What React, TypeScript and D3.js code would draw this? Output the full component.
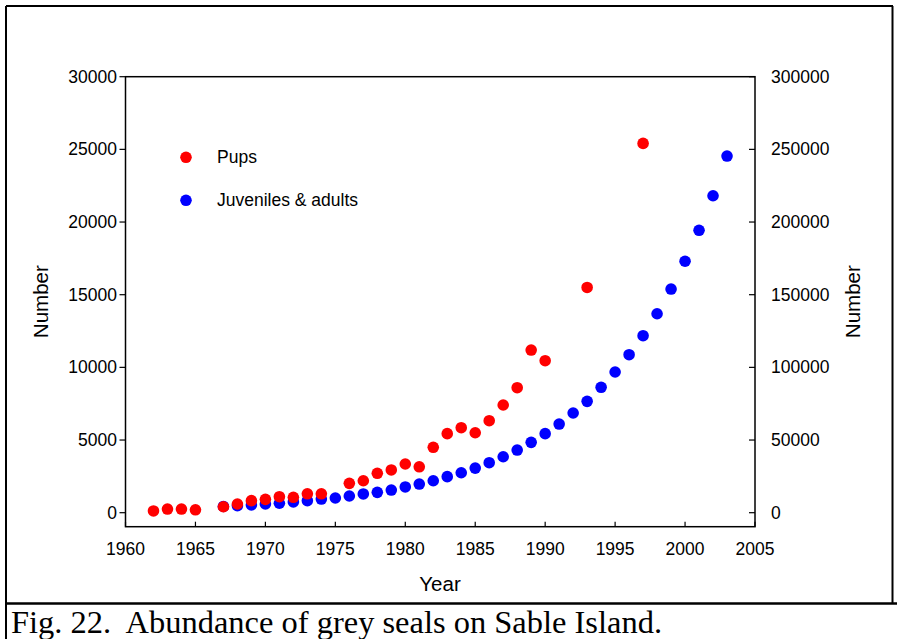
import React from "react";
import * as d3 from "d3";

const pupYears = [1962, 1963, 1964, 1965, 1967, 1968, 1969, 1970, 1971, 1972, 1973, 1974, 1976, 1977, 1978, 1979, 1980, 1981, 1982, 1983, 1984, 1985, 1986, 1987, 1988, 1989, 1990, 1993, 1997];
const pupValues = [120, 250, 250, 200, 410, 600, 830, 920, 1100, 1060, 1300, 1300, 2020, 2200, 2710, 2940, 3350, 3160, 4500, 5440, 5850, 5500, 6330, 7410, 8600, 11190, 10460, 15500, 25410];

const adultYears = [1967, 1968, 1969, 1970, 1971, 1972, 1973, 1974, 1975, 1976, 1977, 1978, 1979, 1980, 1981, 1982, 1983, 1984, 1985, 1986, 1987, 1988, 1989, 1990, 1991, 1992, 1993, 1994, 1995, 1996, 1997, 1998, 1999, 2000, 2001, 2002, 2003];
const adultValues = [4300, 4800, 5300, 6000, 6500, 7400, 8300, 9400, 10100, 11500, 12900, 14000, 15600, 17700, 19700, 22000, 24800, 27500, 30700, 34400, 38500, 43100, 48400, 54400, 61000, 68600, 76600, 86300, 96800, 108700, 121800, 136900, 153900, 173000, 194300, 218100, 245400];

const xTicks = [1960, 1965, 1970, 1975, 1980, 1985, 1990, 1995, 2000, 2005];
const leftTicks = [0, 5000, 10000, 15000, 20000, 25000, 30000];
const rightTicks = [0, 50000, 100000, 150000, 200000, 250000, 300000];

const seriesNames = ["Pups", "Juveniles & adults"];
const seriesColors = ["#ff0000", "#0000ff"];

export default function App() {
  const left = 125.5, right = 755, top = 76.7, bottom = 526.7;
  const x = d3.scaleLinear().domain([1960, 2005]).range([left, right]);
  const yL = d3.scaleLinear().domain([0, 30000]).range([512.7, top]);
  const yR = d3.scaleLinear().domain([0, 300000]).range([512.7, top]);
  const font = "'Liberation Sans', Arial, sans-serif";
  const fs = 17.5;
  const r = 5.8;
  return (
    <div style={{ position: "absolute", left: 0, top: 0 }}>
      <svg width={897} height={639} style={{ display: "block", background: "#fff" }}>
        {/* outer frame */}
        <line x1={6} y1={6} x2={893} y2={6} stroke="#000" strokeWidth={2} />
        <line x1={6} y1={6} x2={6} y2={639} stroke="#000" strokeWidth={2} />
        <line x1={892.5} y1={6} x2={892.5} y2={604} stroke="#000" strokeWidth={2} />
        <line x1={6} y1={603.5} x2={897} y2={603.5} stroke="#000" strokeWidth={2.5} />
        {/* plot box */}
        <rect x={left} y={top} width={right - left} height={bottom - top} fill="none" stroke="#000" strokeWidth={1.5} />
        {/* x ticks */}
        {xTicks.map((t) => (
          <g key={t}>
            <line x1={x(t)} x2={x(t)} y1={bottom} y2={bottom - 5} stroke="#000" strokeWidth={1.2} />
            <text x={x(t)} y={554.5} textAnchor="middle" fontFamily={font} fontSize={fs} fill="#000">{t}</text>
          </g>
        ))}
        {/* left ticks */}
        {leftTicks.map((t) => (
          <g key={t}>
            <line x1={left} x2={left - 6} y1={yL(t)} y2={yL(t)} stroke="#000" strokeWidth={1.2} />
            <text x={117} y={yL(t) + 6} textAnchor="end" fontFamily={font} fontSize={fs} fill="#000">{t}</text>
          </g>
        ))}
        {/* right ticks */}
        {rightTicks.map((t) => (
          <g key={t}>
            <line x1={right} x2={right - 6} y1={yR(t)} y2={yR(t)} stroke="#000" strokeWidth={1.2} />
            <text x={771} y={yR(t) + 6} textAnchor="start" fontFamily={font} fontSize={fs} fill="#000">{t}</text>
          </g>
        ))}
        {/* axis titles */}
        <text x={440} y={591} textAnchor="middle" fontFamily={font} fontSize={20.5} fill="#000">Year</text>
        <text transform={`translate(48,${(top + bottom) / 2}) rotate(-90)`} textAnchor="middle" fontFamily={font} fontSize={20.5} fill="#000">Number</text>
        <text transform={`translate(860,${(top + bottom) / 2}) rotate(-90)`} textAnchor="middle" fontFamily={font} fontSize={20.5} fill="#000">Number</text>
        {/* data */}
        {adultYears.map((yr, i) => (
          <circle key={"a" + yr} cx={x(yr)} cy={yR(adultValues[i])} r={r} fill={seriesColors[1]} />
        ))}
        {pupYears.map((yr, i) => (
          <circle key={"p" + yr} cx={x(yr)} cy={yL(pupValues[i])} r={r} fill={seriesColors[0]} />
        ))}
        {/* legend */}
        {seriesNames.map((n, i) => (
          <g key={n}>
            <circle cx={186} cy={157.3 + i * 43} r={r} fill={seriesColors[i]} />
            <text x={217} y={157.3 + i * 43 + 6} fontFamily={font} fontSize={fs} fill="#000">{n}</text>
          </g>
        ))}
        {/* caption */}
        <text x={11} y={633} fontFamily="'Liberation Serif', 'Times New Roman', serif" fontSize={31} fill="#000" style={{ whiteSpace: "pre" }} textLength={651} lengthAdjust="spacingAndGlyphs">Fig. 22.  Abundance of grey seals on Sable Island.</text>
      </svg>
    </div>
  );
}
